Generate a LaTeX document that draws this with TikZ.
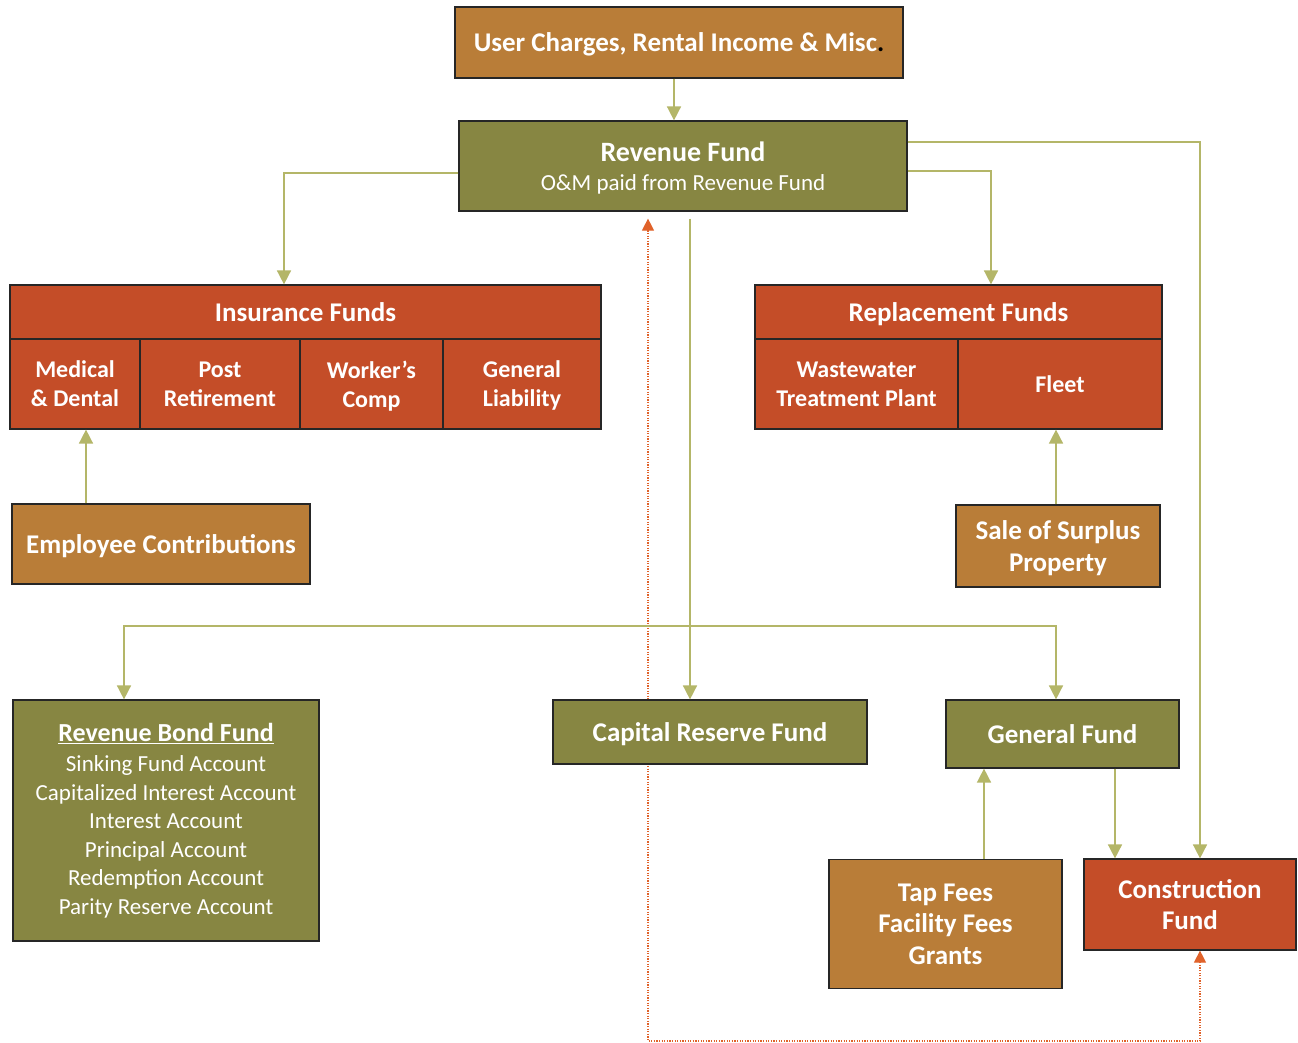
\documentclass[tikz,border=0pt]{standalone}
\usepackage{fontspec}
\setmainfont{Carlito}
\usetikzlibrary{arrows.meta,backgrounds}
\definecolor{clay}{HTML}{B97D38}
\definecolor{moss}{HTML}{878642}
\definecolor{rust}{HTML}{C44D28}
\definecolor{sage}{HTML}{B4B668}
\definecolor{ember}{HTML}{E0622A}
\tikzset{
  fund/.style={draw=black!85,line width=1.2pt,text=white,align=center,inner sep=0pt,text depth=0pt,
    font=\bfseries\fontsize{27}{31.5}\selectfont},
  clayfund/.style={fund,fill=clay},
  mossfund/.style={fund,fill=moss},
  rustfund/.style={fund,fill=rust},
  cellfont/.style={font=\bfseries\fontsize{24}{29}\selectfont},
  link/.style={draw=sage,line width=1.6pt,-{Triangle[length=14pt,width=14pt]}},
  backlink/.style={draw=ember,line width=1.2pt,dash pattern=on 1.2pt off 1.4pt,
    {Triangle[length=12pt,width=12pt]}-{Triangle[length=12pt,width=12pt]}},
}

\begin{document}
\begin{tikzpicture}[x=1pt,y=-1pt]
                \useasboundingbox (0,0) rectangle (1298,1043);
                \coordinate (split) at (690,626);
                \coordinate (low) at (1200,1041);
                \node[clayfund,minimum width=448,minimum height=71] (top) at (679,42.5) {User Charges, Rental Income \& Misc\textcolor{black}{.}};
                \node[mossfund,minimum width=448,minimum height=90,font=\bfseries\fontsize{28}{29}\selectfont] (rev) at (683,166) {Revenue Fund\\{\mdseries\fontsize{23}{29}\selectfont O\&M paid from Revenue Fund}};
                % insurance funds
                \node[rustfund,minimum width=591,minimum height=54] (ins) at (305.5,312) {Insurance Funds};
                \node[rustfund,cellfont,minimum width=130,minimum height=90] (med) at (75,384) {Medical\\\& Dental};
                \node[rustfund,cellfont,minimum width=160,minimum height=90] (post) at (220,384) {Post\\Retirement};
                \node[rustfund,cellfont,minimum width=143,minimum height=90] (work) at (371.5,384) {Worker’s\\Comp};
                \node[rustfund,cellfont,minimum width=158,minimum height=90] (liab) at (522,384) {General\\Liability};
                % replacement funds
                \node[rustfund,minimum width=407,minimum height=54] (rep) at (958.5,312) {Replacement Funds};
                \node[rustfund,cellfont,minimum width=203,minimum height=90] (plant) at (856.5,384) {Wastewater\\Treatment Plant};
                \node[rustfund,cellfont,minimum width=204,minimum height=90] (fleet) at (1060,384) {Fleet};
                \node[clayfund,minimum width=298,minimum height=80] (emp) at (161,544) {Employee Contributions};
                \node[clayfund,minimum width=204,minimum height=82] (sale) at (1058,546) {Sale of Surplus\\Property};
                % lower row
                \node[mossfund,text width=306,text depth=,align=flush center,minimum height=241,font=\mdseries\fontsize{23}{28.5}\selectfont] (bond) at (166,820.5) {{\bfseries\fontsize{26}{28.5}\selectfont\underline{Revenue Bond Fund}}\\[2pt]
                        Sinking Fund Account\\Capitalized Interest Account\\Interest Account\\Principal Account\\Redemption Account\\Parity Reserve Account};
                \node[mossfund,minimum width=314,minimum height=64] (cap) at (710,732) {Capital Reserve Fund};
                \node[mossfund,minimum width=233,minimum height=68] (genf) at (1062.5,734) {General Fund};
                \node[clayfund,minimum width=233,minimum height=129] (tap) at (945.5,924) {Tap Fees\\Facility Fees\\Grants};
                \node[rustfund,minimum width=212,minimum height=91] (cons) at (1190,904.5) {Construction\\Fund};
                \path[link] (top.south -| 674,0) -- (rev.north -| 674,0);
                \path[link] (rev.west |- 0,173) -| (ins.north -| 284,0);
                \path[link] (rev.east |- 0,171) -| (rep.north -| 991,0);
                \path[link] (rev.east |- 0,142) -| (cons.north -| 1200,0);
                \path[link] ([yshift=-7pt]rev.south -| split) -- (cap.north -| split);
                \path[link] (split) -| (bond.north -| 124,0);
                \path[link] (split) -| (genf.north -| 1056,0);
                \path[link] (emp.north -| 86,0) -- (med.south -| 86,0);
                \path[link] (sale.north -| 1056,0) -- (fleet.south -| 1056,0);
                \path[link] (tap.north -| 984,0) -- (genf.south -| 984,0);
                \path[link] (genf.south -| 1115,0) -- (cons.north -| 1115,0);
                \begin{scope}[on background layer]
                        \draw[backlink] ([yshift=-7pt]rev.south -| 648,0) |- (low) -- (cons.south -| low);
                \end{scope}
\end{tikzpicture}
\end{document}
